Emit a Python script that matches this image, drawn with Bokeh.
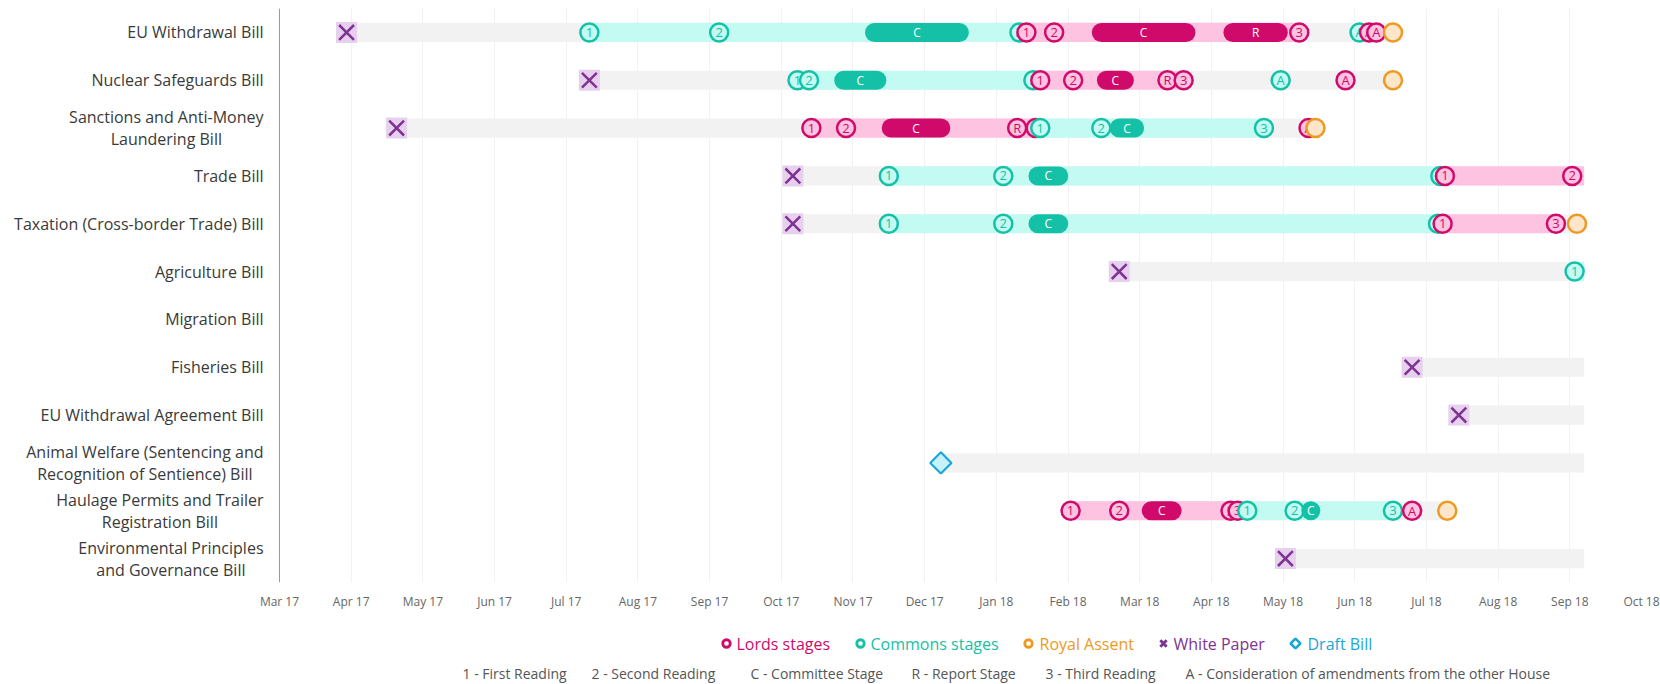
import calendar
import math
from bokeh.plotting import figure
from bokeh.models import FactorRange, Range1d, FixedTicker, Span
from bokeh.layouts import column
from bokeh.embed import file_html
from bokeh.resources import INLINE
from bokeh.core.properties import value

# ---------------- data ----------------
BILLS = [
    "EU Withdrawal Bill",
    "Nuclear Safeguards Bill",
    "Sanctions and Anti-Money Laundering Bill",
    "Trade Bill",
    "Taxation (Cross-border Trade) Bill",
    "Agriculture Bill",
    "Migration Bill",
    "Fisheries Bill",
    "EU Withdrawal Agreement Bill",
    "Animal Welfare (Sentencing and Recognition of Sentience) Bill",
    "Haulage Permits and Trailer Registration Bill",
    "Environmental Principles and Governance Bill",
]
BILL_LABELS = {
    "Sanctions and Anti-Money Laundering Bill": "Sanctions and Anti-Money\nLaundering Bill",
    "Animal Welfare (Sentencing and Recognition of Sentience) Bill": "Animal Welfare (Sentencing and\nRecognition of Sentience) Bill",
    "Haulage Permits and Trailer Registration Bill": "Haulage Permits and Trailer\nRegistration Bill",
    "Environmental Principles and Governance Bill": "Environmental Principles\nand Governance Bill",
}

MONTH_LABELS = ["Mar 17", "Apr 17", "May 17", "Jun 17", "Jul 17", "Aug 17", "Sep 17",
                "Oct 17", "Nov 17", "Dec 17", "Jan 18", "Feb 18", "Mar 18", "Apr 18",
                "May 18", "Jun 18", "Jul 18", "Aug 18", "Sep 18", "Oct 18"]
AXIS_START_YEAR, AXIS_START_MONTH = 2017, 3
TODAY = "2018-09-07"

WHITE_PAPER = [
    ("EU Withdrawal Bill", "2017-03-30"),
    ("Nuclear Safeguards Bill", "2017-07-11"),
    ("Sanctions and Anti-Money Laundering Bill", "2017-04-20"),
    ("Trade Bill", "2017-10-06"),
    ("Taxation (Cross-border Trade) Bill", "2017-10-06"),
    ("Agriculture Bill", "2018-02-21"),
    ("Fisheries Bill", "2018-06-25"),
    ("EU Withdrawal Agreement Bill", "2018-07-15"),
    ("Environmental Principles and Governance Bill", "2018-05-02"),
]
DRAFT_BILL = [
    ("Animal Welfare (Sentencing and Recognition of Sentience) Bill", "2017-12-08"),
]
COMMONS_STAGES = [
    ("EU Withdrawal Bill", "1", "2017-07-11"),
    ("EU Withdrawal Bill", "2", "2017-09-05"),
    ("EU Withdrawal Bill", "3", "2018-01-11"),
    ("EU Withdrawal Bill", "A", "2018-06-03"),
    ("Nuclear Safeguards Bill", "1", "2017-10-08"),
    ("Nuclear Safeguards Bill", "2", "2017-10-13"),
    ("Nuclear Safeguards Bill", "3", "2018-01-17"),
    ("Nuclear Safeguards Bill", "A", "2018-04-30"),
    ("Sanctions and Anti-Money Laundering Bill", "1", "2018-01-20"),
    ("Sanctions and Anti-Money Laundering Bill", "2", "2018-02-14"),
    ("Sanctions and Anti-Money Laundering Bill", "3", "2018-04-23"),
    ("Trade Bill", "1", "2017-11-16"),
    ("Trade Bill", "2", "2018-01-04"),
    ("Trade Bill", "3", "2018-07-07"),
    ("Taxation (Cross-border Trade) Bill", "1", "2017-11-16"),
    ("Taxation (Cross-border Trade) Bill", "2", "2018-01-04"),
    ("Taxation (Cross-border Trade) Bill", "3", "2018-07-06"),
    ("Agriculture Bill", "1", "2018-09-03"),
    ("Haulage Permits and Trailer Registration Bill", "1", "2018-04-16"),
    ("Haulage Permits and Trailer Registration Bill", "2", "2018-05-06"),
    ("Haulage Permits and Trailer Registration Bill", "3", "2018-06-17"),
]
LORDS_STAGES = [
    ("EU Withdrawal Bill", "1", "2018-01-14"),
    ("EU Withdrawal Bill", "2", "2018-01-26"),
    ("EU Withdrawal Bill", "3", "2018-05-08"),
    ("EU Withdrawal Bill", "A", "2018-06-07"),
    ("EU Withdrawal Bill", "A", "2018-06-10"),
    ("Nuclear Safeguards Bill", "1", "2018-01-20"),
    ("Nuclear Safeguards Bill", "2", "2018-02-03"),
    ("Nuclear Safeguards Bill", "R", "2018-03-13"),
    ("Nuclear Safeguards Bill", "3", "2018-03-20"),
    ("Nuclear Safeguards Bill", "A", "2018-05-28"),
    ("Sanctions and Anti-Money Laundering Bill", "1", "2017-10-14"),
    ("Sanctions and Anti-Money Laundering Bill", "2", "2017-10-29"),
    ("Sanctions and Anti-Money Laundering Bill", "R", "2018-01-10"),
    ("Sanctions and Anti-Money Laundering Bill", "3", "2018-01-18"),
    ("Sanctions and Anti-Money Laundering Bill", "A", "2018-05-12"),
    ("Trade Bill", "1", "2018-07-09"),
    ("Trade Bill", "2", "2018-09-02"),
    ("Taxation (Cross-border Trade) Bill", "1", "2018-07-08"),
    ("Taxation (Cross-border Trade) Bill", "3", "2018-08-26"),
    ("Haulage Permits and Trailer Registration Bill", "1", "2018-02-02"),
    ("Haulage Permits and Trailer Registration Bill", "2", "2018-02-21"),
    ("Haulage Permits and Trailer Registration Bill", "R", "2018-04-09"),
    ("Haulage Permits and Trailer Registration Bill", "3", "2018-04-12"),
    ("Haulage Permits and Trailer Registration Bill", "A", "2018-06-25"),
]
# multi-day stages: (bill, house, label, start, end)
LONG_STAGES = [
    ("EU Withdrawal Bill", "commons", "C", "2017-11-10", "2017-12-16"),
    ("EU Withdrawal Bill", "lords", "C", "2018-02-14", "2018-03-21"),
    ("EU Withdrawal Bill", "lords", "R", "2018-04-10", "2018-04-29"),
    ("Nuclear Safeguards Bill", "commons", "C", "2017-10-28", "2017-11-11"),
    ("Nuclear Safeguards Bill", "lords", "C", "2018-02-16", "2018-02-23"),
    ("Sanctions and Anti-Money Laundering Bill", "lords", "C", "2017-11-17", "2017-12-08"),
    ("Sanctions and Anti-Money Laundering Bill", "commons", "C", "2018-02-21", "2018-02-27"),
    ("Trade Bill", "commons", "C", "2018-01-19", "2018-01-28"),
    ("Taxation (Cross-border Trade) Bill", "commons", "C", "2018-01-19", "2018-01-28"),
    ("Haulage Permits and Trailer Registration Bill", "lords", "C", "2018-03-06", "2018-03-15"),
    ("Haulage Permits and Trailer Registration Bill", "commons", "C", "2018-05-13", "2018-05-13"),
]
ROYAL_ASSENT = [
    ("EU Withdrawal Bill", "2018-06-17"),
    ("Nuclear Safeguards Bill", "2018-06-17"),
    ("Sanctions and Anti-Money Laundering Bill", "2018-05-15"),
    ("Taxation (Cross-border Trade) Bill", "2018-09-04"),
    ("Haulage Permits and Trailer Registration Bill", "2018-07-10"),
]

LEGEND_TEXT = ["Lords stages", "Commons stages", "Royal Assent", "White Paper", "Draft Bill"]
KEY_TEXT = ["1 - First Reading", "2  - Second Reading", "C - Committee Stage",
            "R  - Report Stage", "3  - Third Reading",
            "A  - Consideration of amendments from the other House"]

# ---------------- styles / layout ----------------
FONT = "Open Sans"
GRAY_BAR = "#f2f2f2"
LORDS_C, LORDS_L = "#cf0a6b", "#fdc3e0"
COMMONS_C, COMMONS_L = "#15c1a6", "#c3fbf3"
RA_C, RA_L = "#ee9a22", "#fde6c9"
WP_C, WP_L = "#7e3393", "#e6d0ee"
DRAFT_C, DRAFT_L = "#1aa6d9", "#c8f2fb"
BAR_H = 0.4

PAGE_W = 1660
FRAME_W, FRAME_H = 1641, 574     # frame spans from page left edge to the Oct 18 tick
LABEL_PAD = 279                  # pixels reserved left of the time axis for bill names
PX_PER_MONTH = (FRAME_W - LABEL_PAD) / (len(MONTH_LABELS) - 1)
TOP_PAD, BOTTOM_PAD = 8, 33


def mx(s):
    """date string -> position on the month axis (one unit per month)"""
    y, m, d = (int(v) for v in s.split("-"))
    idx = (y - AXIS_START_YEAR) * 12 + (m - AXIS_START_MONTH)
    return idx + (d - 1) / calendar.monthrange(y, m)[1]


p = figure(
    y_range=FactorRange(factors=list(reversed(BILLS))),
    x_range=Range1d(-LABEL_PAD / PX_PER_MONTH, len(MONTH_LABELS) - 1),
    frame_width=FRAME_W, frame_height=FRAME_H,
    min_border_left=0, min_border_right=PAGE_W - FRAME_W,
    min_border_top=TOP_PAD, min_border_bottom=BOTTOM_PAD,
    output_backend="svg", toolbar_location=None,
)
p.outline_line_color = None
p.ygrid.grid_line_color = None
p.yaxis.visible = False
p.xgrid.grid_line_color = "#f2f2f2"
p.xaxis.ticker = FixedTicker(ticks=list(range(len(MONTH_LABELS))))
p.xaxis.major_label_overrides = {i: lab for i, lab in enumerate(MONTH_LABELS)}
p.xaxis.axis_line_color = None
p.xaxis.major_tick_line_color = None
p.xaxis.minor_tick_line_color = None
p.xaxis.major_tick_out = 0
p.xaxis.major_tick_in = 0
p.xaxis.major_label_standoff = 10
p.xaxis.major_label_text_font = FONT
p.xaxis.major_label_text_font_size = "12px"
p.xaxis.major_label_text_color = "#666666"

# vertical axis line at the start of the time axis
p.add_layout(Span(location=0, dimension="height", line_color="#999999", line_width=1))

# bill names (block anchored right, lines centred)
p.text(x=[-16 / PX_PER_MONTH] * len(BILLS), y=BILLS,
       text=[BILL_LABELS.get(b, b) for b in BILLS],
       text_font=value(FONT), text_font_size="16px", text_color="#3a3a3a",
       text_align="center", anchor="center_right", text_baseline="middle",
       text_line_height=1.0)

# ---------------- bars ----------------
ra = {b: d for b, d in ROYAL_ASSENT}
all_dates = {}
for b, d in WHITE_PAPER + DRAFT_BILL:
    all_dates.setdefault(b, []).append(mx(d))
for b, _, d in COMMONS_STAGES + LORDS_STAGES:
    all_dates.setdefault(b, []).append(mx(d))

base_y, base_l, base_r = [], [], []
for b in BILLS:
    if b not in all_dates:
        continue
    base_y.append(b)
    base_l.append(min(all_dates[b]))
    base_r.append(mx(ra.get(b, TODAY)))
p.hbar(y=base_y, left=base_l, right=base_r, height=BAR_H, fill_color=GRAY_BAR, line_color=None)


def house_bars(stages, color):
    ys, ls, rs = [], [], []
    for b in BILLS:
        firsts = [mx(d) for bb, lab, d in stages if bb == b and lab == "1"]
        thirds = [mx(d) for bb, lab, d in stages if bb == b and lab == "3"]
        if not firsts:
            continue
        ys.append(b)
        ls.append(firsts[0])
        rs.append(thirds[0] if thirds else mx(TODAY))
    p.hbar(y=ys, left=ls, right=rs, height=BAR_H, fill_color=color, line_color=None)


house_bars(COMMONS_STAGES, COMMONS_L)
house_bars(LORDS_STAGES, LORDS_L)

# ---------------- events (drawn in date order) ----------------
events = []
for b, d in WHITE_PAPER:
    events.append((mx(d), "wp", b, "", mx(d)))
for b, d in DRAFT_BILL:
    events.append((mx(d), "draft", b, "", mx(d)))
for b, lab, d in COMMONS_STAGES:
    events.append((mx(d), "commons", b, lab, mx(d)))
for b, lab, d in LORDS_STAGES:
    events.append((mx(d), "lords", b, lab, mx(d)))
for b, house, lab, s, e in LONG_STAGES:
    events.append((mx(s), house + "_long", b, lab, mx(e)))
for b, d in ROYAL_ASSENT:
    events.append((mx(d), "ra", b, "", mx(d)))
events.sort(key=lambda ev: ev[0])

txt = dict(text_font=value(FONT), text_align="center", text_baseline="middle")
for x0, kind, b, lab, x1 in events:
    if kind == "wp":
        p.scatter(x=[x0], y=[b], marker="square", size=21, fill_color=WP_L, line_color=None)
        p.scatter(x=[x0], y=[b], marker="x", size=21, line_color=WP_C, line_width=2.5)
    elif kind == "draft":
        p.scatter(x=[x0], y=[b], marker="square", angle=math.pi / 4, size=15,
                  fill_color=DRAFT_L, line_color=DRAFT_C, line_width=2.2)
    elif kind in ("commons", "lords", "ra"):
        col, light = {"commons": (COMMONS_C, COMMONS_L), "lords": (LORDS_C, LORDS_L),
                      "ra": (RA_C, RA_L)}[kind]
        p.scatter(x=[x0], y=[b], marker="circle", size=18, fill_color=light,
                  line_color=col, line_width=2.5)
        if lab:
            p.text(x=[x0], y=[b], text=[lab], text_color=col, text_font_size="13px", **txt)
    else:
        col = COMMONS_C if kind.startswith("commons") else LORDS_C
        p.segment(x0=[x0], y0=[b], x1=[x1], y1=[b], line_width=19, line_cap="round",
                  line_color=col)
        p.text(x=[(x0 + x1) / 2], y=[b], text=[lab], text_color="white",
               text_font_size="12px", **txt)

# ---------------- legend + key ----------------
H2 = 684 - (TOP_PAD + FRAME_H + BOTTOM_PAD)
q = figure(x_range=Range1d(0, PAGE_W), y_range=Range1d(0, H2), frame_width=PAGE_W,
           frame_height=H2, min_border=0, output_backend="svg", toolbar_location=None)
q.outline_line_color = None
q.axis.visible = False
q.grid.visible = False

leg_marker_x = [726, 860, 1028, 1163, 1295]
leg_text_x = [736, 870, 1039, 1173, 1307]
leg_cols = [LORDS_C, COMMONS_C, RA_C, WP_C, DRAFT_C]
leg_y = H2 - 28
for i in range(3):
    q.scatter(x=[leg_marker_x[i]], y=[leg_y], marker="circle", size=7.5, fill_color="white",
              line_color=leg_cols[i], line_width=2.8)
q.scatter(x=[leg_marker_x[3]], y=[leg_y], marker="x", size=9, line_color=WP_C, line_width=2.8)
q.scatter(x=[leg_marker_x[4]], y=[leg_y], marker="square", angle=math.pi / 4, size=7,
          fill_color="white", line_color=DRAFT_C, line_width=2.5)
q.text(x=leg_text_x, y=[leg_y] * 5, text=LEGEND_TEXT, text_color=leg_cols,
       text_font=value(FONT), text_font_size="16px", text_align="left", text_baseline="middle")

key_x = [462, 591, 750, 911, 1045, 1185]
q.text(x=key_x, y=[H2 - 58] * len(KEY_TEXT), text=KEY_TEXT, text_color="#555555",
       text_font=value(FONT), text_font_size="14px", text_align="left", text_baseline="middle")

layout = column(p, q, spacing=0)
open("out.html", "w").write(file_html(layout, INLINE))
